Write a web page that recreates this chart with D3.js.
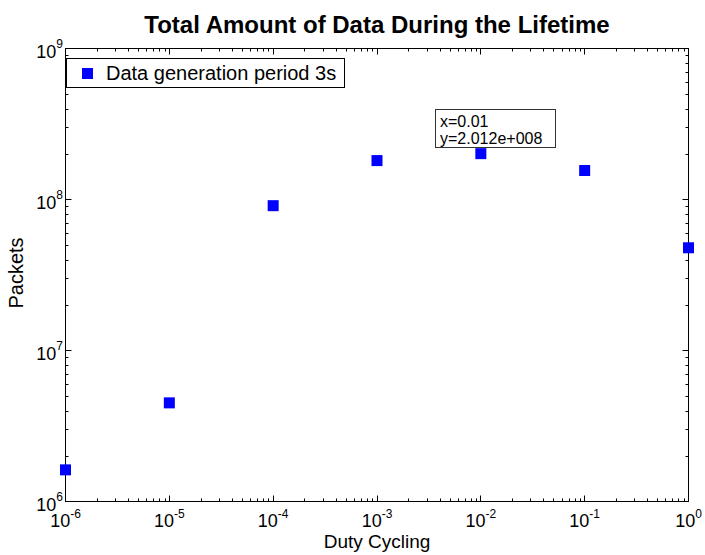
<!DOCTYPE html>
<html><head><meta charset="utf-8">
<script src="https://cdn.jsdelivr.net/npm/d3@7"></script>
<style>body{margin:0;background:#fff}svg text{font-family:"Liberation Sans",Arial,sans-serif}</style>
</head><body><svg id="c" width="705" height="555"></svg>
<script>
const xValues = [1e-6, 1e-5, 1e-4, 1e-3, 1e-2, 1e-1, 1];
const yValues = [1.62e6, 4.5e6, 9.1e7, 1.81e8, 2.012e8, 1.556e8, 4.79e7];
const xTickExps = [-6, -5, -4, -3, -2, -1, 0];
const yTickExps = [6, 7, 8, 9];
const seriesName = "Data generation period 3s";
const titleText = "Total Amount of Data During the Lifetime";
const tipLines = ["x=0.01", "y=2.012e+008"];

const svg = d3.select("#c");
const L = 65.5, R = 688.5, T = 48.5, B = 501.5;
const x = d3.scaleLog().domain([1e-6, 1]).range([L, R]);
const y = d3.scaleLog().domain([1e6, 1e9]).range([B, T]);

// minor ticks
const minorX = [], minorY = [];
for (let e = -6; e < 0; e++) for (let k = 2; k <= 9; k++) minorX.push(k * Math.pow(10, e));
for (let e = 6; e < 9; e++) for (let k = 2; k <= 9; k++) minorY.push(k * Math.pow(10, e));
const majX = xTickExps.map(e => Math.pow(10, e));
const majY = yTickExps.map(e => Math.pow(10, e));

const g = svg.append("g").attr("stroke", "#000").attr("stroke-width", 1);
function tk(x1, y1, x2, y2) { g.append("line").attr("x1", x1).attr("y1", y1).attr("x2", x2).attr("y2", y2); }
minorX.forEach(v => { const p = Math.round(x(v)) + 0.5; tk(p, B, p, B - 3); tk(p, T, p, T + 3); });
majX.forEach(v => { const p = Math.round(x(v) - 0.5) + 0.5; tk(p, B, p, B - 6); tk(p, T, p, T + 6); });
minorY.forEach(v => { const p = Math.round(y(v)) + 0.5; tk(L, p, L + 3, p); tk(R, p, R - 3, p); });
majY.forEach(v => { const p = Math.round(y(v) - 0.5) + 0.5; tk(L, p, L + 6, p); tk(R, p, R - 6, p); });
svg.append("rect").attr("x", L).attr("y", T).attr("width", R - L).attr("height", B - T)
  .attr("fill", "none").attr("stroke", "#000").attr("stroke-width", 1);

// x tick labels
xTickExps.forEach(e => {
  const t = svg.append("text").attr("x", x(Math.pow(10, e))).attr("y", 527).attr("text-anchor", "middle")
    .attr("font-size", 18);
  t.append("tspan").text("10");
  t.append("tspan").attr("font-size", 12).attr("dy", -9).text(e);
});
// y tick labels
yTickExps.forEach(e => {
  const t = svg.append("text").attr("x", 63).attr("y", y(Math.pow(10, e)) + 9).attr("text-anchor", "end")
    .attr("font-size", 18);
  t.append("tspan").text("10");
  t.append("tspan").attr("font-size", 12).attr("dy", -10).text(e);
});

// markers
svg.append("g").selectAll("rect").data(xValues.map((v, i) => [v, yValues[i]])).join("rect")
  .attr("x", d => x(d[0]) - 5.5).attr("y", d => y(d[1]) - 5.5).attr("width", 11).attr("height", 11)
  .attr("fill", "#0000ff");

// legend
svg.append("rect").attr("x", 66.5).attr("y", 58.5).attr("width", 278).attr("height", 29)
  .attr("fill", "#fff").attr("stroke", "#000").attr("stroke-width", 1);
svg.append("rect").attr("x", 82).attr("y", 68).attr("width", 11).attr("height", 11).attr("fill", "#0000ff");
svg.append("text").attr("x", 106).attr("y", 80).attr("font-size", 20).text(seriesName);

// data tip
svg.append("rect").attr("x", 435.5).attr("y", 109.5).attr("width", 120).attr("height", 38)
  .attr("fill", "#fff").attr("stroke", "#333").attr("stroke-width", 1);
tipLines.forEach((s, i) => svg.append("text").attr("x", 440).attr("y", 127 + i * 16.5)
  .attr("font-size", 16).text(s));

// title & labels
svg.append("text").attr("x", (L + R) / 2).attr("y", 33).attr("text-anchor", "middle")
  .attr("font-size", 24).attr("font-weight", "bold").text(titleText);
svg.append("text").attr("x", (L + R) / 2).attr("y", 548).attr("text-anchor", "middle")
  .attr("font-size", 19).text("Duty Cycling");
svg.append("text").attr("transform", `translate(23,${(T + B) / 2 - 2}) rotate(-90)`).attr("text-anchor", "middle")
  .attr("font-size", 20).text("Packets");
</script></body></html>
